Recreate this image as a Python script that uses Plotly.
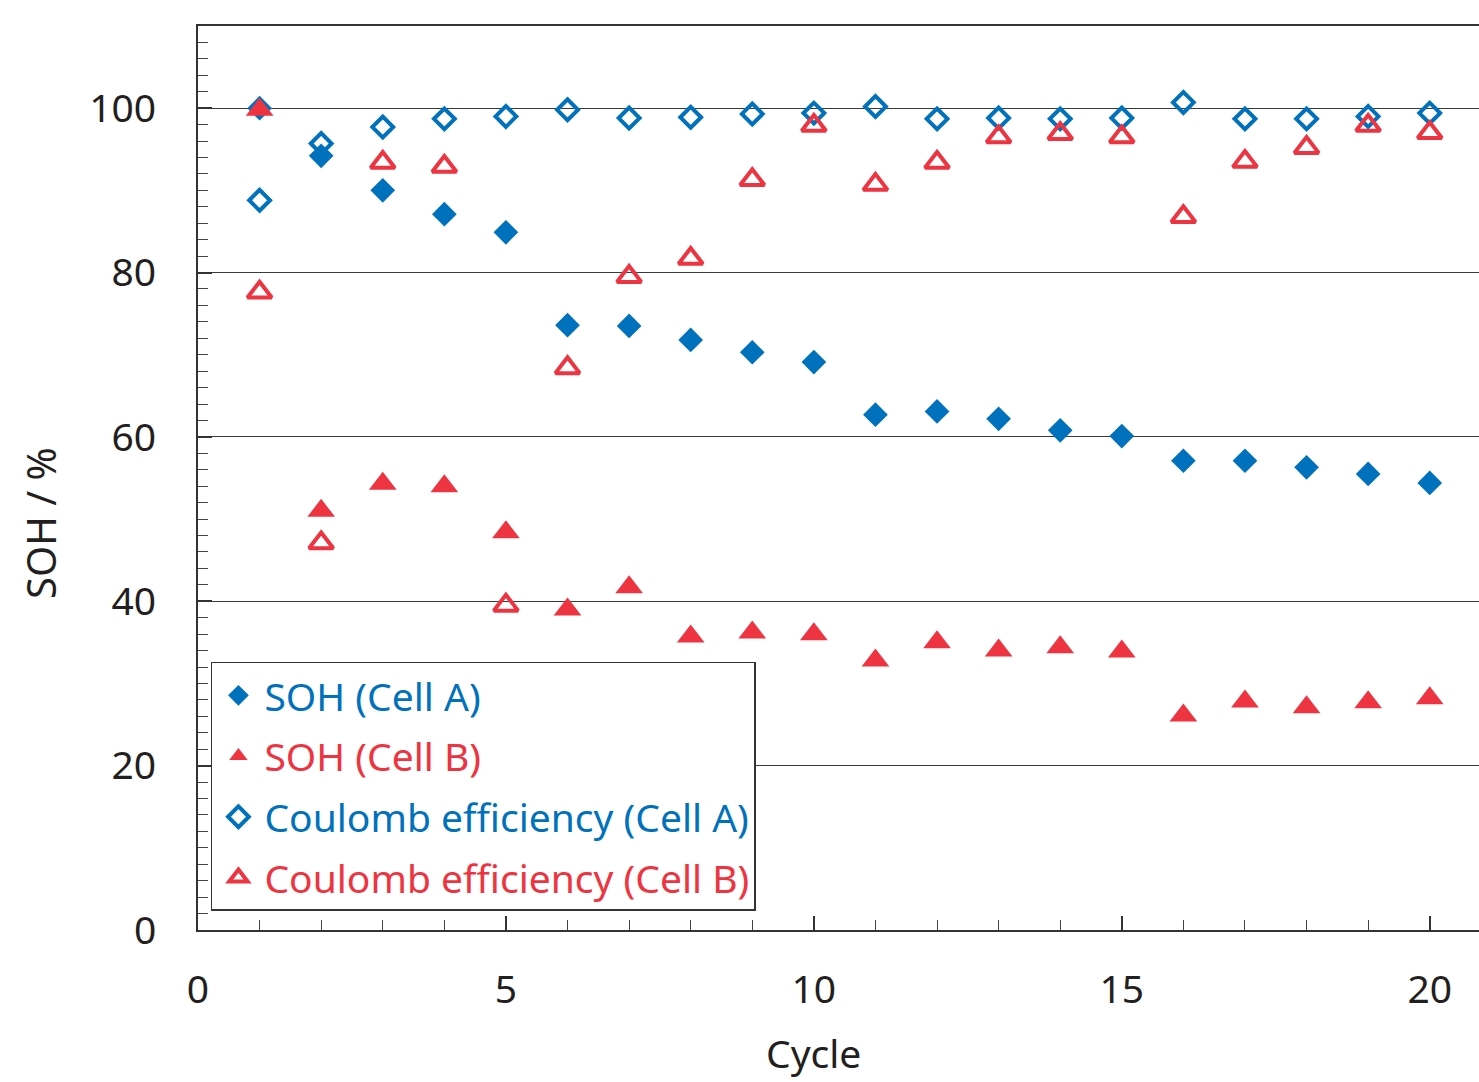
import plotly.graph_objects as go

cycles = list(range(1, 21))
soh_a = [100, 94.2, 90.0, 87.1, 84.9, 73.6, 73.5, 71.8, 70.3, 69.1,
         62.7, 63.1, 62.2, 60.8, 60.1, 57.1, 57.1, 56.3, 55.5, 54.4]
soh_b = [99.8, 51.0, 54.3, 54.0, 48.4, 39.0, 41.7, 35.7, 36.2, 36.0,
         32.8, 35.0, 34.0, 34.4, 33.9, 26.1, 27.8, 27.1, 27.7, 28.2]
ce_a = [88.8, 95.7, 97.7, 98.7, 99.0, 99.8, 98.8, 98.9, 99.3, 99.4,
        100.2, 98.7, 98.8, 98.7, 98.8, 100.7, 98.7, 98.7, 99.0, 99.4]
ce_b = [77.6, 47.1, 93.4, 92.9, 39.5, 68.4, 79.5, 81.7, 91.3, 97.9,
        90.7, 93.4, 96.5, 96.9, 96.5, 86.8, 93.5, 95.2, 97.9, 97.0]

names = ["SOH (Cell A)", "SOH (Cell B)", "Coulomb efficiency (Cell A)", "Coulomb efficiency (Cell B)"]
x_ticks = [0, 5, 10, 15, 20]
y_ticks = [0, 20, 40, 60, 80, 100]

BLUE = "#0071BC"
RED = "#EE3440"
FONT = "Noto Sans"
TXT = "#231F20"

fig = go.Figure()
specs = [
    (soh_a, names[0], BLUE, "diamond", 19, 0),
    (soh_b, names[1], RED, "triangle-up", 24, 0),
    (ce_a, names[2], BLUE, "diamond-open", 16, 4),
    (ce_b, names[3], RED, "triangle-up-open", 21, 4),
]
for i, (vals, nm, col, sym, sz, lw) in enumerate(specs):
    fig.add_trace(go.Scatter(
        x=cycles, y=vals, mode="markers",
        name=f"<span style='color:{col}'>{nm}</span>",
        legendgroup=f"g{i}",
        marker=dict(symbol=sym, size=sz, color=col,
                    line=dict(color=col, width=lw)),
    ))

pw, ph = 1479 - 198, 1082 - 26 - 152

fig.update_layout(
    width=1479, height=1082,
    margin=dict(l=198, r=0, t=26, b=152),
    paper_bgcolor="white", plot_bgcolor="white",
    font=dict(family=FONT, size=38, color=TXT),
    showlegend=True,
    legend=dict(
        x=0.0101, y=0.2965, xanchor="left", yanchor="top",
        bgcolor="white", bordercolor="#333333", borderwidth=1.5,
        font=dict(family=FONT, size=39),
        traceorder="grouped", tracegroupgap=7,
        itemsizing="trace", itemwidth=42,
    ),
    annotations=[
        dict(text="Cycle", x=10, xref="x", y=(930 - 1052) / ph, yref="paper",
             xanchor="center", yanchor="middle", showarrow=False,
             font=dict(size=39, color=TXT)),
        dict(text="SOH / %", x=(40 - 198) / pw, xref="paper", y=(930 - 523) / ph, yref="paper",
             xanchor="center", yanchor="middle", showarrow=False,
             textangle=-90, font=dict(size=40, color=TXT)),
    ],
)

fig.update_xaxes(
    range=[0, 20.8], tickmode="array", tickvals=x_ticks,
    ticks="inside", ticklen=14, tickwidth=1.5, tickcolor="#333333",
    showline=True, linecolor="#333333", linewidth=2, mirror=True,
    showgrid=False, zeroline=False,
    minor=dict(dtick=1, tick0=0, ticks="inside", ticklen=10, tickwidth=1.2, tickcolor="#444444", showgrid=False),
    ticklabelstandoff=24,
    tickfont=dict(size=39),
)
fig.update_yaxes(
    range=[0, 110], tickmode="array", tickvals=y_ticks,
    ticks="inside", ticklen=14, tickwidth=1.5, tickcolor="#333333",
    showline=True, linecolor="#333333", linewidth=2, mirror=False,
    showgrid=True, gridcolor="#3a3a3a", gridwidth=1.3, zeroline=False,
    minor=dict(dtick=2, tick0=0, ticks="inside", ticklen=10, tickwidth=1.2, tickcolor="#444444", showgrid=False),
    ticklabelstandoff=32,
    tickfont=dict(size=39),
)

fig.write_html("out.html")
